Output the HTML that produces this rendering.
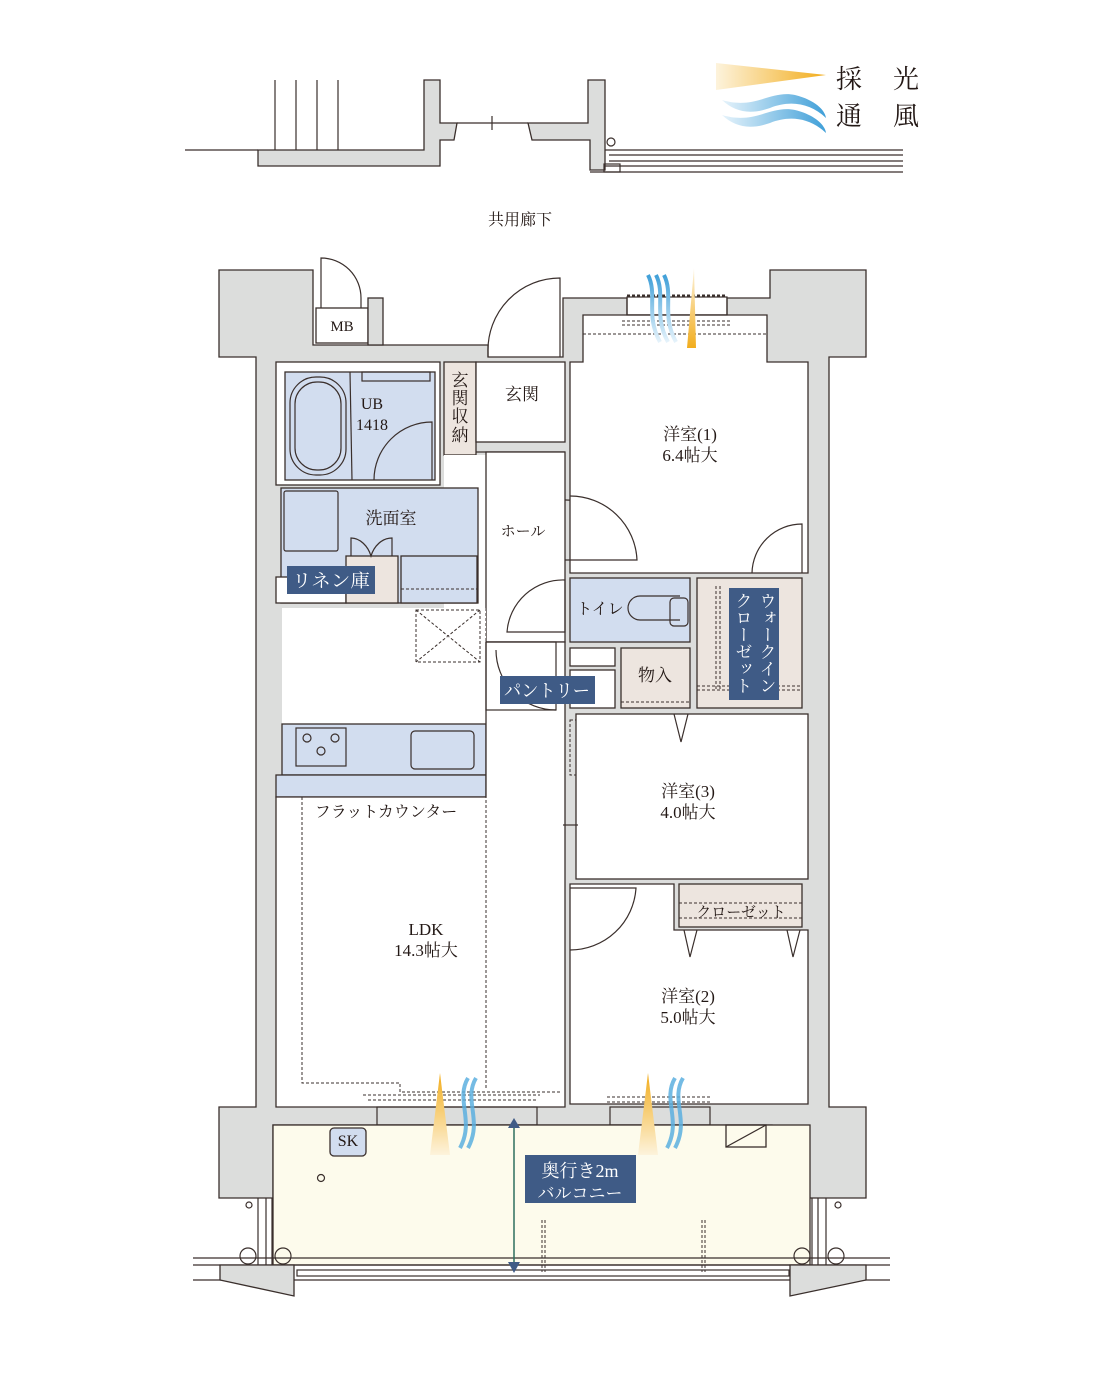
<!DOCTYPE html>
<html><head><meta charset="utf-8"><style>
html,body{margin:0;padding:0;background:#fff}
svg{display:block}
text{font-family:"Liberation Serif","Noto Serif CJK SC",serif;fill:#231815}
.w{fill:#dcdddc;stroke:#3a2f2c;stroke-width:1.3}
.r{stroke:#3a2f2c;stroke-width:1.3}
.l{fill:none;stroke:#3a2f2c;stroke-width:1.2}
.d{fill:none;stroke:#3a2f2c;stroke-width:1;stroke-dasharray:3 2}
.lab{fill:#3f5b86}
</style></head><body>
<svg width="1101" height="1383" viewBox="0 0 1101 1383" xmlns="http://www.w3.org/2000/svg">
<defs>
<linearGradient id="sun" x1="0" y1="0" x2="1" y2="0"><stop offset="0" stop-color="#fdf3dc"/><stop offset="1" stop-color="#f2ad1d"/></linearGradient>
<linearGradient id="sunv" x1="0" y1="1" x2="0" y2="0"><stop offset="0" stop-color="#fdf3dc"/><stop offset="1" stop-color="#f2ad1d"/></linearGradient>
<linearGradient id="wind" x1="0" y1="0" x2="1" y2="0"><stop offset="0" stop-color="#e6f3fb"/><stop offset="1" stop-color="#3f9fd8"/></linearGradient>
<linearGradient id="windv" x1="0" y1="1" x2="0" y2="0"><stop offset="0" stop-color="#e6f3fb"/><stop offset="1" stop-color="#3f9fd8"/></linearGradient>
</defs>

<line x1="185" y1="150" x2="258" y2="150" class="l"/>
<path d="M258 150 H424 V80 H440 V123 H457 L454 140 H440 V166 H258 Z" class="w"/>
<line x1="275" y1="80" x2="275" y2="150" class="l"/><line x1="296" y1="80" x2="296" y2="150" class="l"/>
<line x1="317" y1="80" x2="317" y2="150" class="l"/><line x1="338" y1="80" x2="338" y2="150" class="l"/>
<line x1="457" y1="123" x2="528" y2="123" class="l"/><line x1="492" y1="116" x2="492" y2="130" class="l"/>
<path d="M528 123 H588 V80 H605 V170 H590 V140 H532 Z" class="w"/>
<circle cx="611" cy="142" r="4" class="l"/>
<line x1="605" y1="150" x2="903" y2="150" class="l"/><line x1="609" y1="155" x2="903" y2="155" class="l"/>
<line x1="609" y1="161" x2="903" y2="161" class="l"/><line x1="605" y1="166" x2="903" y2="166" class="l"/>
<line x1="590" y1="172" x2="903" y2="172" class="l"/>
<rect x="604" y="164" width="16" height="8" class="l"/>

<polygon points="716,63 826,75 716,90" fill="url(#sun)"/>
<path d="M722 100 C755 110,770 90,795 95 C815 100,825 110,826 118 C810 103,790 100,770 108 C750 115,735 112,722 100Z" fill="url(#wind)"/>
<path d="M722 115 C755 125,770 105,795 110 C815 115,825 125,826 133 C810 118,790 115,770 123 C750 130,735 127,722 115Z" fill="url(#wind)"/>
<text x="836" y="88" font-size="26">採</text><text x="893" y="88" font-size="26">光</text>
<text x="836" y="125" font-size="26">通</text><text x="893" y="125" font-size="26">風</text>

<text x="488" y="225" font-size="16">共用廊下</text>

<path d="M219 270 H313 V345 H488 V357 H563 V298 H627 V315 H727 V298 H770 V270 H866 V357 H829 V1107 H866 V1198 H772 V1125 H273 V1198 H219 V1107 H256 V357 H219 Z" class="w"/>
<rect x="316" y="308" width="52" height="35" fill="#fff" class="r"/>
<text x="342" y="331" font-size="15" text-anchor="middle">MB</text>
<path d="M321 308 V258 A40 40 0 0 1 361 298 V308" class="l"/>
<rect x="368" y="298" width="15" height="47" class="w"/>
<path d="M488 357 V352 A72 72 0 0 1 560 278 V357" class="l" fill="#fff"/>

<rect x="276" y="362" width="164" height="123" fill="#fff" class="r"/>
<rect x="285" y="372" width="150" height="108" fill="#d2ddef" class="r"/>
<rect x="290" y="377" width="56" height="98" rx="26" class="l"/>
<rect x="295" y="382" width="46" height="88" rx="22" class="l"/>
<line x1="350" y1="372" x2="352" y2="480" class="l"/>
<rect x="362" y="372" width="68" height="9" class="l"/>
<path d="M374 480 A58 58 0 0 1 432 422 V480" class="l"/>
<text x="372" y="409" font-size="16" text-anchor="middle">UB</text>
<text x="372" y="430" font-size="16" text-anchor="middle">1418</text>

<rect x="444" y="362" width="32" height="93" fill="#ede5df" class="r"/>
<text x="460" y="386" font-size="17" text-anchor="middle">玄</text><text x="460" y="404" font-size="17" text-anchor="middle">関</text>
<text x="460" y="422" font-size="17" text-anchor="middle">収</text><text x="460" y="441" font-size="17" text-anchor="middle">納</text>
<rect x="476" y="362" width="89" height="80" fill="#fff" class="r"/>
<line x1="476" y1="452" x2="565" y2="452" class="l"/>
<text x="522" y="400" font-size="17" text-anchor="middle">玄関</text>
<rect x="444" y="455" width="121" height="190" fill="#fff"/>
<rect x="486" y="452" width="79" height="190" fill="#fff" class="r"/>
<text x="523" y="536" font-size="15" text-anchor="middle">ホール</text>
<path d="M565 500 A72 72 0 0 1 637 560 H565" class="l"/>
<path d="M507 632 A56 56 0 0 1 565 580 V632 Z" class="l"/>

<rect x="281" y="488" width="197" height="115" fill="#d2ddef" class="r"/>
<rect x="284" y="491" width="54" height="60" rx="2" class="l"/>
<rect x="276" y="577" width="70" height="26" fill="#fff" class="r"/>
<rect x="346" y="556" width="52" height="47" fill="#ede5df" class="r"/>
<rect x="401" y="556" width="76" height="47" fill="#d2ddef" class="r"/>
<line x1="401" y1="589" x2="477" y2="589" class="d"/>
<path d="M351 556 V538 C360 538 368 546 371 556 C374 546 382 538 392 538 V556" class="l"/>
<text x="391" y="524" font-size="17" text-anchor="middle">洗面室</text>
<rect x="287" y="566" width="88" height="28" class="lab"/>
<text x="331" y="587" font-size="18" text-anchor="middle" style="fill:#fff" textLength="78" lengthAdjust="spacingAndGlyphs">リネン庫</text>

<rect x="282" y="608" width="204" height="116" fill="#fff"/>
<rect x="416" y="610" width="64" height="52" class="d"/>
<path d="M416 610 L480 662 M480 610 L416 662" class="d"/>
<rect x="282" y="724" width="204" height="51" fill="#d2ddef" class="r"/>
<rect x="296" y="728" width="50" height="38" class="l"/>
<circle cx="307" cy="738" r="4" class="l"/><circle cx="335" cy="738" r="4" class="l"/><circle cx="321" cy="751" r="4" class="l"/>
<rect x="411" y="731" width="63" height="38" rx="4" class="l"/>
<rect x="276" y="775" width="210" height="22" fill="#d2ddef" class="r"/>

<path d="M276 797 H486 V642 H565 V1107 H276 Z" fill="#fff" class="r"/>
<path d="M486 608 V775 M486 690 V1090" class="d"/>
<path d="M302 797 V1083 H400 V1092 H562" class="d"/>
<rect x="486" y="642" width="70" height="68" class="l"/>
<path d="M556 710 A60 60 0 0 1 496 650" class="l"/>
<text x="386" y="817" font-size="16" text-anchor="middle">フラットカウンター</text>
<text x="426" y="935" font-size="17" text-anchor="middle">LDK</text>
<text x="426" y="956" font-size="17" text-anchor="middle">14.3帖大</text>

<path d="M583 315 H767 V362 H808 V573 H570 V362 H583 Z" fill="#fff" class="r"/>
<line x1="583" y1="334" x2="767" y2="334" class="d"/>
<rect x="627" y="297" width="100" height="18" fill="#fff" class="l"/>
<line x1="627" y1="296" x2="727" y2="296" stroke="#3a2f2c" stroke-width="3" stroke-dasharray="3 2"/>
<line x1="622" y1="321" x2="732" y2="321" class="d"/><line x1="622" y1="325" x2="732" y2="325" class="d"/>
<text x="690" y="440" font-size="17" text-anchor="middle">洋室(1)</text>
<text x="690" y="461" font-size="17" text-anchor="middle">6.4帖大</text>
<path d="M752 573 A50 50 0 0 1 802 524 V573" class="l"/>
<path d="M570 496 A67 67 0 0 1 637 560 H570" class="l"/>

<rect x="570" y="578" width="120" height="64" fill="#d2ddef" class="r"/>
<path d="M680 596 H640 A12 12 0 0 0 640 620 H680" class="l"/>
<rect x="670" y="598" width="18" height="28" rx="4" class="l"/>
<text x="600" y="614" font-size="16" text-anchor="middle">トイレ</text>
<rect x="570" y="648" width="45" height="18" fill="#fff" class="r"/>
<rect x="570" y="670" width="45" height="38" fill="#fff" class="r"/>
<rect x="621" y="648" width="69" height="60" fill="#ede5df" class="r"/>
<line x1="621" y1="702" x2="690" y2="702" class="d"/>
<text x="655" y="681" font-size="17" text-anchor="middle">物入</text>
<rect x="697" y="578" width="105" height="130" fill="#ede5df" class="r"/>
<path d="M716 586 V690 M720 586 V690 M697 686 H802 M697 690 H802" class="d"/>
<rect x="729" y="588" width="50" height="112" class="lab"/>
<text font-size="17" style="fill:#fff" writing-mode="tb" x="766" y="592">ウォークイン</text>
<text font-size="17" style="fill:#fff" writing-mode="tb" x="742" y="592">クローゼット</text>

<rect x="500" y="676" width="95" height="28" class="lab"/>
<text x="547" y="697" font-size="18" text-anchor="middle" style="fill:#fff" textLength="86" lengthAdjust="spacingAndGlyphs">パントリー</text>

<rect x="576" y="714" width="232" height="165" fill="#fff" class="r"/>
<path d="M674 714 L681 742 L688 714" class="l"/>
<rect x="570" y="720" width="6" height="55" class="d"/>
<line x1="563" y1="825" x2="578" y2="825" class="l"/>
<text x="688" y="797" font-size="17" text-anchor="middle">洋室(3)</text>
<text x="688" y="818" font-size="17" text-anchor="middle">4.0帖大</text>

<path d="M570 884 H674 V930 H808 V1104 H570 Z" fill="#fff" class="r"/>
<rect x="679" y="884" width="123" height="43" fill="#ede5df" class="r"/>
<path d="M679 903 H802 M679 918 H802" class="d"/>
<text x="741" y="917" font-size="15" text-anchor="middle">クローゼット</text>
<path d="M684 930 L690 957 L697 930 M787 930 L793 957 L800 930" class="l"/>
<path d="M570 950 A66 66 0 0 0 636 888 H570" class="l"/>
<text x="688" y="1002" font-size="17" text-anchor="middle">洋室(2)</text>
<text x="688" y="1023" font-size="17" text-anchor="middle">5.0帖大</text>

<rect x="377" y="1107" width="160" height="18" fill="#fff" class="l"/>
<rect x="610" y="1107" width="100" height="18" fill="#fff" class="l"/>
<path d="M363 1095 H540 M368 1100 H536 M607 1097 H712 M607 1102 H712" class="d"/>

<rect x="273" y="1125" width="537" height="140" fill="#fdfbec" class="r"/>
<rect x="330" y="1128" width="36" height="28" rx="4" fill="#d2ddef" class="r"/>
<text x="348" y="1146" font-size="16" text-anchor="middle">SK</text>
<circle cx="321" cy="1178" r="3.5" class="l"/>
<rect x="726" y="1125" width="40" height="22" fill="none" class="r"/><line x1="726" y1="1147" x2="766" y2="1125" class="l"/>
<path d="M542 1220 V1272 M545 1220 V1272 M702 1220 V1272 M705 1220 V1272" class="d"/>
<path d="M258 1198 V1265 M266 1198 V1265 M272 1198 V1265 M812 1198 V1265 M818 1198 V1265 M826 1198 V1265" class="l"/>
<circle cx="249" cy="1205" r="3" class="l"/><circle cx="838" cy="1205" r="3" class="l"/>
<circle cx="248" cy="1256" r="8" fill="#fff" class="l"/><circle cx="283" cy="1256" r="8" fill="#fff" class="l"/>
<circle cx="802" cy="1256" r="8" fill="#fff" class="l"/><circle cx="836" cy="1256" r="8" fill="#fff" class="l"/>
<path d="M193 1258 H890 M193 1265 H890 M193 1280 H890" class="l"/>
<path d="M220 1265 H294 V1296 L220 1280 Z" class="w"/>
<path d="M790 1265 H866 V1280 L790 1296 Z" class="w"/>
<rect x="297" y="1270" width="492" height="6" fill="#fff" class="l"/>

<polygon points="688,268 697,268 690,348" fill="url(#sunv)" transform="rotate(180 692 308)"/>
<path d="M648 275 C658 295,645 315,660 342" fill="none" stroke="url(#windv)" stroke-width="4"/>
<path d="M656 275 C666 295,653 315,668 342" fill="none" stroke="url(#windv)" stroke-width="4"/>
<path d="M664 275 C674 295,661 315,676 342" fill="none" stroke="url(#windv)" stroke-width="4"/>
<polygon points="440,1073 450,1155 430,1155" fill="url(#sunv)"/>
<polygon points="648,1073 658,1155 638,1155" fill="url(#sunv)"/>
<g fill="none" stroke="#5cb0e0" stroke-width="4" opacity="0.85">
<path d="M468 1078 C455 1100,475 1120,460 1148"/><path d="M476 1078 C463 1100,483 1120,468 1148"/>
<path d="M675 1078 C662 1100,682 1120,667 1148"/><path d="M683 1078 C670 1100,690 1120,675 1148"/>
</g>

<line x1="514" y1="1125" x2="514" y2="1268" stroke="#2f6f5f" stroke-width="1.5"/>
<polygon points="508,1128 520,1128 514,1118" fill="#3f5b86"/>
<polygon points="508,1262 520,1262 514,1273" fill="#3f5b86"/>
<rect x="525" y="1155" width="111" height="48" class="lab"/>
<text x="580" y="1177" font-size="18" text-anchor="middle" style="fill:#fff">奥行き2m</text>
<text x="580" y="1199" font-size="17" text-anchor="middle" style="fill:#fff">バルコニー</text>
</svg>
</body></html>
